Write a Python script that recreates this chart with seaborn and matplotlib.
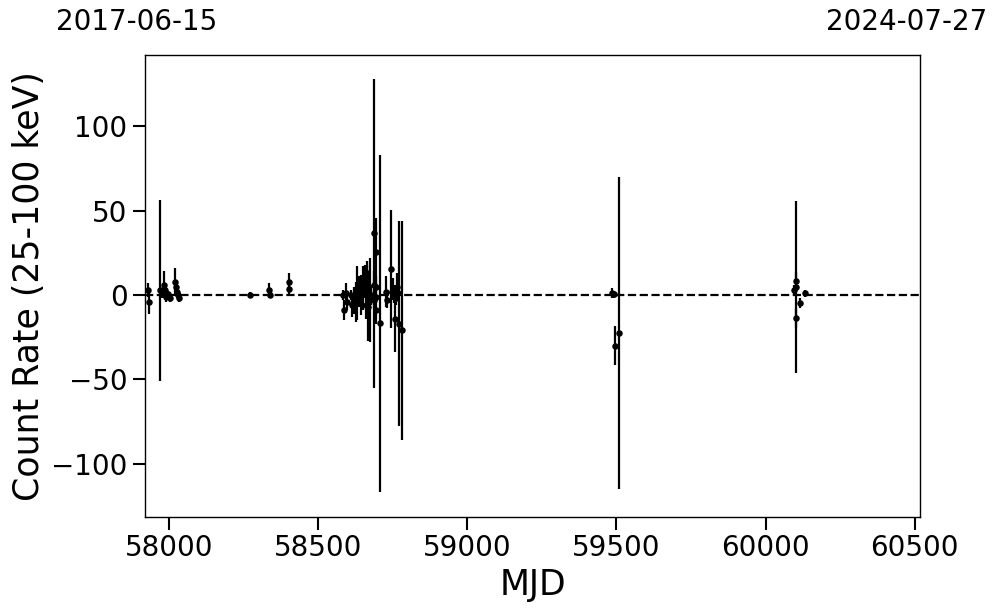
import numpy as np
import pandas as pd
import matplotlib
matplotlib.use("Agg")
import matplotlib.pyplot as plt
import seaborn as sns

# ---- data ----
mjd = [57930.5, 57931.2, 57969.8, 57976.5, 57983.2, 57986.6, 57989.9, 57996.6, 58003.4,
       58020.1, 58023.5, 58026.8, 58030.2, 58033.6,
       58270.8, 58335.6, 58339.0, 58402.7, 58402.9,
       58583.9, 58587.3, 58592.3, 58597.4, 58609.1, 58614.1, 58620.9, 58627.6, 58630.9,
       58637.6, 58644.4, 58651.1, 58657.8, 58663.5, 58664.5, 58659.5, 58667.8, 58674.6,
       58677.9, 58685.6, 58688.0, 58688.5, 58693.7, 58693.9, 58694.2, 58694.7, 58708.1,
       58727.3, 58730.6, 58744.0, 58748.4, 58751.7, 58755.1, 58757.4, 58761.8, 58765.2,
       58768.5, 58771.9, 58780.3,
       59486.7, 59493.4, 59496.8, 59510.2,
       60094.1, 60100.9, 60101.0, 60101.2, 60116.6, 60133.4]
rate = [3.0, -4.0, 2.7, 1.0, 6.0, 3.0, -1.0, 0.5, -2.0,
        8.0, 4.5, 2.0, 0.0, -2.0,
        0.0, 3.0, 0.0, 8.0, 3.5,
        0.0, -9.0, 1.0, -4.0, 0.0, -6.0, -3.0, -4.0, 1.0,
        2.0, 0.0, 4.0, 8.0, 13.0, 10.0, -6.0, -7.0, -3.0,
        0.0, 36.5, 6.0, -3.0, 25.7, 5.0, -1.0, -9.0, -16.8,
        2.0, -3.0, 15.4, 2.0, 4.0, 0.0, -14.0, -2.0, 5.0,
        1.0, -17.0, -21.0,
        1.0, 0.5, -30.0, -22.4,
        3.0, 8.5, 5.0, -13.5, -5.0, 1.0]
err = [4.0, 7.0, 53.7, 3.0, 8.0, 4.0, 3.0, 2.0, 2.0,
       8.0, 4.0, 3.0, 2.0, 2.0,
       2.0, 4.0, 2.0, 5.0, 3.0,
       3.0, 6.0, 6.0, 5.0, 3.0, 7.0, 8.0, 12.0, 16.0,
       9.0, 12.0, 13.0, 10.0, 7.0, 8.0, 8.0, 20.0, 25.0,
       6.0, 91.6, 8.0, 5.0, 20.0, 6.0, 4.0, 8.0, 100.0,
       9.0, 5.0, 35.0, 5.0, 6.0, 5.0, 20.0, 4.0, 8.0,
       3.0, 61.0, 65.0,
       3.0, 2.0, 11.5, 92.5,
       3.0, 5.0, 51.0, 6.0, 3.0, 2.0]

start_label = "2017-06-15"
end_label = "2024-07-27"
xlim = (57919, 60518)
xticks = [58000, 58500, 59000, 59500, 60000, 60500]
yticks = [-100, -50, 0, 50, 100]

df = pd.DataFrame({"MJD": mjd, "rate": rate, "err": err})

sns.set_style("ticks", rc={"axes.edgecolor": "black", "xtick.color": "black",
                           "ytick.color": "black", "text.color": "black",
                           "axes.labelcolor": "black"})
plt.rcParams['font.family'] = ['DejaVu Sans']

fig = plt.figure(figsize=(9.97, 6.13), dpi=100)
ax = fig.add_axes([0.1454, 0.1566, 0.7774, 0.7537])

ax.errorbar(df["MJD"], df["rate"], yerr=df["err"], fmt="none",
            ecolor="black", elinewidth=1.6, capsize=0, zorder=2)
sns.scatterplot(data=df, x="MJD", y="rate", ax=ax, color="black", s=22,
                edgecolor="black", linewidth=0, zorder=3)
ax.axhline(0, color="black", linestyle="--", linewidth=1.6, zorder=1)

ax.set_xlim(*xlim)
ax.set_ylim(-131.7, 142.4)
ax.set_xticks(xticks)
ax.set_yticks(yticks)
ax.set_yticklabels([f"\u2212{abs(v)}" if v < 0 else str(v) for v in yticks])
ax.tick_params(axis="both", labelsize=20, length=9, width=1.5, direction="out",
               colors="black")
ax.set_xlabel("MJD", fontsize=25, color="black")
ax.set_ylabel("Count Rate (25-100 keV)", fontsize=25, color="black")
for s in ax.spines.values():
    s.set_linewidth(1.0)
    s.set_color("black")

ax.text(-0.0103, 1.071, start_label, transform=ax.transAxes, ha="center",
        va="center", fontsize=20, color="black")
ax.text(0.9832, 1.071, end_label, transform=ax.transAxes, ha="center",
        va="center", fontsize=20, color="black")

fig.savefig("out.png", dpi=100)
